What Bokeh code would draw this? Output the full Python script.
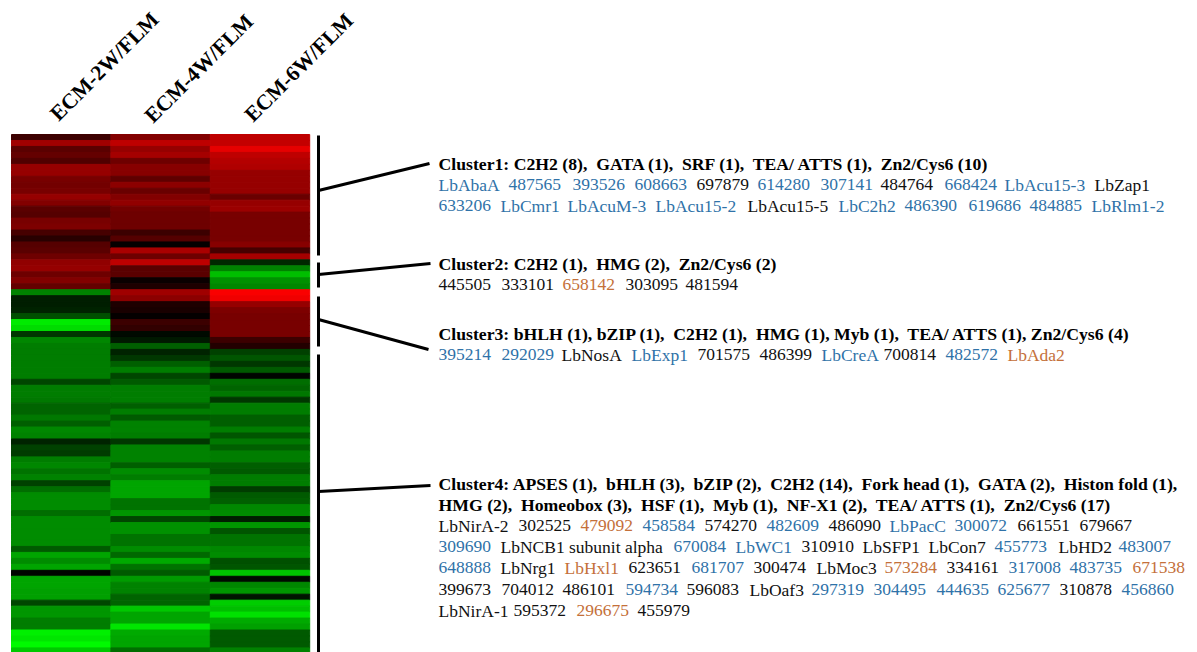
from bokeh.plotting import figure
from bokeh.models import Range1d, LinearColorMapper, ColumnDataSource
from bokeh.transform import transform
from bokeh.core.properties import value
from bokeh.embed import file_html
from bokeh.resources import INLINE

columns = ["ECM-2W/FLM", "ECM-4W/FLM", "ECM-6W/FLM"]
# signed log-ratio level: + red, - green
ecm_2w = [60,160,90,100,80,150,150,120,115,120,150,130,90,85,120,125,70,40,85,90,110,145,150,110,130,100,
          -130,-30,-30,-35,-80,-235,-220,-55,-135,-125,-125,-125,-125,-125,-125,-70,-125,-125,-120,-100,-100,-120,-95,-135,
          -130,-35,-65,-60,-125,-135,-115,-130,-65,-110,-140,-140,-140,-110,-140,-140,-140,-140,-140,-90,-165,-140,-165,-5,
          -165,-165,-160,-160,-70,-150,-150,-125,-125,-240,-230,-250,-200]
ecm_4w = [130,190,150,165,110,135,135,95,140,105,130,145,115,110,110,110,60,85,5,170,110,190,90,90,10,30,
          160,140,30,25,5,60,50,-10,-25,-95,-35,-55,-95,-125,-70,-90,-125,-125,-125,-95,-125,-90,-130,-130,
          -125,-55,-130,-130,-130,-95,-140,-125,-165,-165,-165,-115,-115,-150,-70,-145,-145,-115,-115,-140,-105,-170,-115,-90,
          -155,-130,-130,-100,-100,-200,-165,-165,-230,-170,-165,-165,-110]
ecm_6w = [190,195,230,190,180,175,150,150,150,150,105,150,155,120,120,120,120,120,135,70,165,-40,-130,-190,-145,-135,
          250,240,150,125,120,120,120,120,60,35,-65,-85,-55,-90,-5,-110,-100,-120,-55,-125,-125,-95,-95,-125,
          -85,-120,-95,-125,-125,-95,-90,-125,-125,-60,-90,-95,-135,-140,-30,-150,-85,-115,-115,-135,-140,-80,-85,-195,
          -10,-135,-150,-20,-205,-190,-225,-170,-160,-90,-90,-90,-130]
series = [ecm_2w, ecm_4w, ecm_6w]

headings = [
    "Cluster1: C2H2 (8),\u00a0 GATA (1),\u00a0 SRF (1),\u00a0 TEA/ ATTS (1),\u00a0 Zn2/Cys6 (10)",
    "Cluster2: C2H2 (1),\u00a0 HMG (2),\u00a0 Zn2/Cys6 (2)",
    "Cluster3: bHLH (1), bZIP (1),\u00a0 C2H2 (1),\u00a0 HMG (1), Myb (1),\u00a0 TEA/ ATTS (1), Zn2/Cys6 (4)",
    "Cluster4: APSES (1),\u00a0 bHLH (3),\u00a0 bZIP (2),\u00a0 C2H2 (14),\u00a0 Fork head (1),\u00a0 GATA (2),\u00a0 Histon fold (1),",
    "HMG (2),\u00a0 Homeobox (3),\u00a0 HSF (1),\u00a0 Myb (1),\u00a0 NF-X1 (2),\u00a0 TEA/ ATTS (1),\u00a0 Zn2/Cys6 (17)",
]
heading_y = [163, 263, 333, 483, 504]

B, K, O = "#2f72a8", "#111111", "#c4703a"
lines = [
    (184, [("LbAbaA",438,B),("487565",508,B),("393526",572,B),("608663",634,B),("697879",696,K),("614280",757,B),("307141",820,B),("484764",880,K),("668424",944,B),("LbAcu15-3",1004,B),("LbZap1",1094,K)]),
    (205, [("633206",438,B),("LbCmr1",500,B),("LbAcuM-3",567,B),("LbAcu15-2",655,B),("LbAcu15-5",747,K),("LbC2h2",838,B),("486390",904,B),("619686",968,B),("484885",1029,B),("LbRlm1-2",1091,B)]),
    (284, [("445505",438,K),("333101",501,K),("658142",562,O),("303095",625,K),("481594",685,K)]),
    (354, [("395214",438,B),("292029",501,B),("LbNosA",561,K),("LbExp1",631,B),("701575",697,K),("486399",759,K),("LbCreA",821,B),("700814",883,K),("482572",945,B),("LbAda2",1007,O)]),
    (525, [("LbNirA-2",438,K),("302525",518,K),("479092",580,O),("458584",642,B),("574270",704,K),("482609",766,B),("486090",828,K),("LbPacC",889,B),("300072",954,B),("661551",1017,K),("679667",1079,K)]),
    (546, [("309690",438,B),("LbNCB1 subunit alpha",500,K),("670084",673,B),("LbWC1",735,B),("310910",801,K),("LbSFP1",862,K),("LbCon7",928,K),("455773",994,B),("LbHD2",1058,K),("483007",1118,B)]),
    (567, [("648888",438,B),("LbNrg1",500,K),("LbHxl1",564,O),("623651",628,K),("681707",691,B),("300474",753,K),("LbMoc3",816,K),("573284",884,O),("334161",946,K),("317008",1008,B),("483735",1069,B),("671538",1132,O)]),
    (589, [("399673",438,K),("704012",501,K),("486101",562,K),("594734",625,B),("596083",686,K),("LbOaf3",749,K),("297319",811,B),("304495",873,B),("444635",936,B),("625677",997,B),("310878",1059,K),("456860",1121,B)]),
    (610, [("LbNirA-1",438,K),("595372",513,K),("296675",576,O),("455979",637,K)]),
]

bracket_x = [318, 318, 318, 318]
bracket_y0 = [135, 262, 296, 354]
bracket_y1 = [255, 287, 346, 652]
lead_x0 = [318, 318, 318, 318]
lead_y0 = [190, 274, 319, 491]
lead_x1 = [429, 430, 428, 430]
lead_y1 = [163, 263, 349, 485]
label_x = [104, 198.5, 298.5]
label_y = [66, 68, 67]

W, H = 1197, 652
p = figure(width=W, height=H, x_range=Range1d(0, W), y_range=Range1d(H, 0),
           x_axis_type=None, y_axis_type=None, toolbar_location=None, output_backend="svg",
           min_border=0, outline_line_color=None, background_fill_color="white")
p.grid.visible = False

# heatmap in (column, gene row) units
col_w, row_h, hx, hy = 99.4, 5.97, 11, 134
p.extra_x_ranges["col"] = Range1d((0 - hx) / col_w, (W - hx) / col_w)
p.extra_y_ranges["row"] = Range1d((H - hy) / row_h, (0 - hy) / row_h)
palette = [f"#{0:02x}{255 - i:02x}00" for i in range(256)] + [f"#{i:02x}0000" for i in range(1, 256)]
mapper = LinearColorMapper(palette=palette, low=-255, high=255)
cx, cy, cv = [], [], []
for c, vals in enumerate(series):
    for r, v in enumerate(vals):
        cx.append(c + 0.5); cy.append(r + 0.5); cv.append(v)
src = ColumnDataSource(dict(x=cx, y=cy, v=cv))
p.rect("x", "y", width=1, height=1, source=src, x_range_name="col", y_range_name="row",
       fill_color=transform("v", mapper), line_color=transform("v", mapper), line_width=1)

p.segment(bracket_x, bracket_y0, bracket_x, bracket_y1, line_color="black", line_width=3)
p.segment(lead_x0, lead_y0, lead_x1, lead_y1, line_color="black", line_width=3)

p.text(label_x, label_y, text=columns, angle=0.785, text_align="center", text_baseline="middle",
       text_font=value("Liberation Serif"), text_font_style="bold", text_font_size="21.5px", text_color="black")
p.text([438] * len(headings), heading_y, text=headings, text_baseline="middle",
       text_font=value("Liberation Serif"), text_font_style="bold", text_font_size="17.7px", text_color="black")
tx, ty, tt, tc = [], [], [], []
for y, toks in lines:
    for t, x, c in toks:
        tx.append(x); ty.append(y); tt.append(t); tc.append(c)
p.text(tx, ty, text=tt, text_color=tc, text_baseline="middle",
       text_font=value("Liberation Serif"), text_font_size="17.5px")

open("out.html", "w").write(file_html(p, INLINE))
